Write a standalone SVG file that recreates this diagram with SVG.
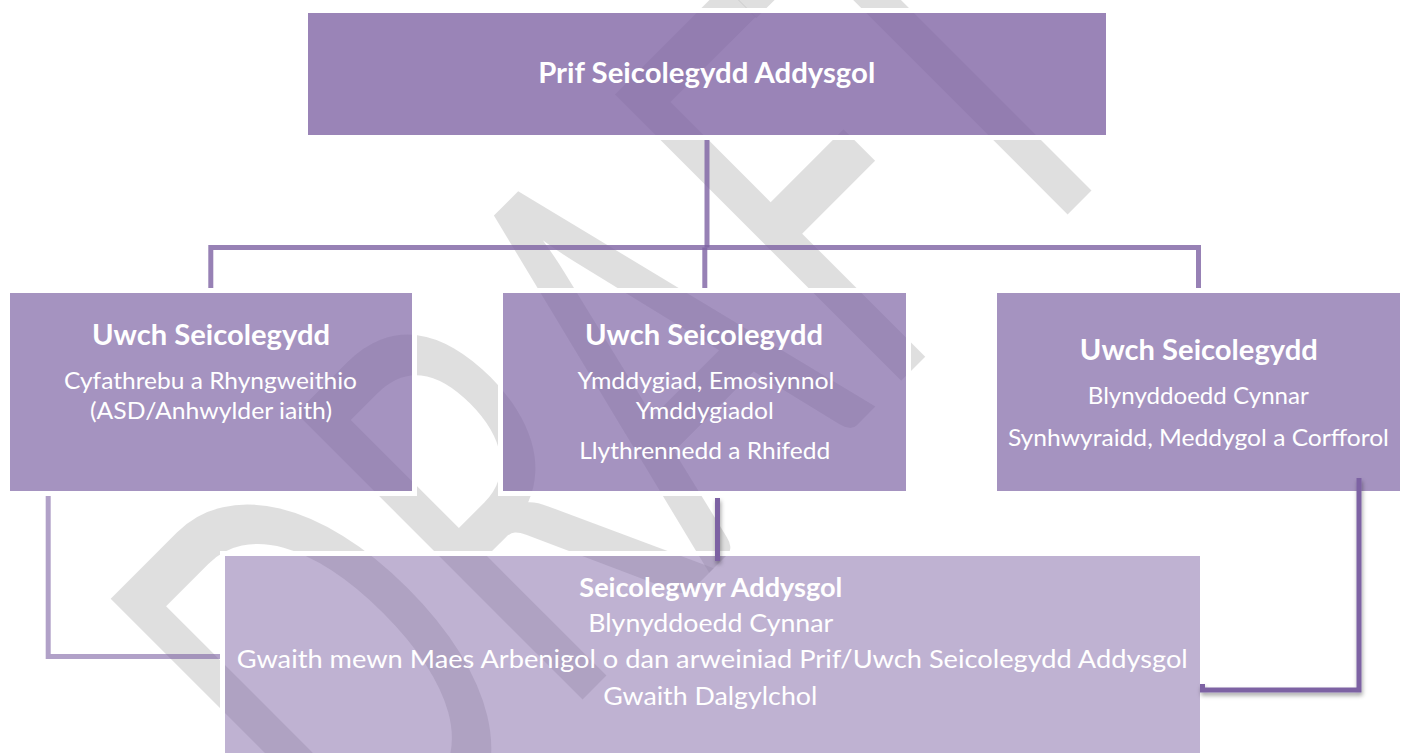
<svg xmlns="http://www.w3.org/2000/svg" width="1405" height="753" viewBox="0 0 1405 753">
  <style>
    .box{stroke:#ffffff;stroke-width:5}
    .t{font-family:Lato,"Liberation Sans",sans-serif;fill:#ffffff;text-anchor:middle}
    .b{font-weight:bold}
    .wm{font-family:Lato,"Liberation Sans",sans-serif;font-size:565px;fill:#c0c0c0;fill-opacity:0.5;text-anchor:middle}
    .ln{fill:none;stroke:#7d62a3;stroke-width:5}
  </style>
  <defs>
    <filter id="sh" x="-50%" y="-50%" width="200%" height="200%">
      <feDropShadow dx="1" dy="3" stdDeviation="2" flood-color="#000" flood-opacity="0.35"/>
    </filter>
  </defs>
  <rect width="1405" height="753" fill="#ffffff"/>

  <g id="watermark" transform="translate(641 641) rotate(-45)">
    <text class="wm" transform="translate(-244 0) scale(0.62 1)">D</text>
    <text class="wm" transform="translate(-5 0) scale(0.62 1)">R</text>
    <text class="wm" transform="translate(214 0) scale(0.62 1)">A</text>
    <text class="wm" transform="translate(435 0) scale(0.62 1)">F</text>
    <text class="wm" transform="translate(620 0) scale(0.62 1)">T</text>
  </g>

  <g id="connectors-upper">
    <path class="ln" stroke-opacity="0.8" d="M707 135 V247.5"/>
    <path class="ln" stroke-opacity="0.8" d="M210.8 293 V247.5 H1198.5 V293"/>
    <path class="ln" stroke-opacity="0.8" d="M704.8 247.5 V293"/>
    <path class="ln" stroke-opacity="0.6" d="M48.2 491 V656.5 H225"/>
  </g>

  <g id="node-prif">
    <rect class="box" x="305.5" y="10.5" width="803" height="127" fill="#7d62a3" fill-opacity="0.78"/>
    <text class="t b" x="706.7" y="83.3" font-size="28" textLength="337" lengthAdjust="spacingAndGlyphs">Prif Seicolegydd Addysgol</text>
  </g>

  <g id="node-uwch-1">
    <rect class="box" x="7.5" y="290.5" width="407" height="203" fill="#7d62a3" fill-opacity="0.69"/>
    <text class="t b" x="211" y="345" font-size="28" textLength="238" lengthAdjust="spacingAndGlyphs">Uwch Seicolegydd</text>
    <text class="t" x="210.5" y="389" font-size="24" textLength="293" lengthAdjust="spacingAndGlyphs">Cyfathrebu a Rhyngweithio</text>
    <text class="t" x="211" y="419" font-size="24" textLength="242" lengthAdjust="spacingAndGlyphs">(ASD/Anhwylder iaith)</text>
  </g>

  <g id="node-uwch-2">
    <rect class="box" x="500.5" y="290.5" width="408" height="203" fill="#7d62a3" fill-opacity="0.69"/>
    <text class="t b" x="704" y="345" font-size="28" textLength="238" lengthAdjust="spacingAndGlyphs">Uwch Seicolegydd</text>
    <text class="t" x="706" y="389" font-size="24" textLength="257" lengthAdjust="spacingAndGlyphs">Ymddygiad, Emosiynnol</text>
    <text class="t" x="704.8" y="419" font-size="24" textLength="138" lengthAdjust="spacingAndGlyphs">Ymddygiadol</text>
    <text class="t" x="704.7" y="459" font-size="24" textLength="251" lengthAdjust="spacingAndGlyphs">Llythrennedd a Rhifedd</text>
  </g>

  <g id="node-uwch-3">
    <rect class="box" x="994.5" y="290.5" width="408" height="203" fill="#7d62a3" fill-opacity="0.69"/>
    <text class="t b" x="1198.8" y="360" font-size="28" textLength="238" lengthAdjust="spacingAndGlyphs">Uwch Seicolegydd</text>
    <text class="t" x="1198.3" y="404" font-size="24" textLength="221" lengthAdjust="spacingAndGlyphs">Blynyddoedd Cynnar</text>
    <text class="t" x="1198.4" y="446" font-size="24" textLength="381" lengthAdjust="spacingAndGlyphs">Synhwyraidd, Meddygol a Corfforol</text>
  </g>

  <g id="node-seicolegwyr">
    <rect class="box" x="222.5" y="553.5" width="980" height="220" fill="#7d62a3" fill-opacity="0.49"/>
    <text class="t b" x="710.8" y="597" font-size="26.5" textLength="263" lengthAdjust="spacingAndGlyphs">Seicolegwyr Addysgol</text>
    <text class="t" x="710.8" y="632" font-size="25" textLength="245" lengthAdjust="spacingAndGlyphs">Blynyddoedd Cynnar</text>
    <text class="t" x="712.3" y="668" font-size="25" textLength="951" lengthAdjust="spacingAndGlyphs">Gwaith mewn Maes Arbenigol o dan arweiniad Prif/Uwch Seicolegydd Addysgol</text>
    <text class="t" x="710.3" y="705" font-size="25" textLength="214" lengthAdjust="spacingAndGlyphs">Gwaith Dalgylchol</text>
  </g>

  <g id="connectors-lower" filter="url(#sh)">
    <path class="ln" d="M717.5 498 V561"/>
    <path class="ln" d="M1202.5 684 V690 H1359 V478"/>
  </g>
</svg>
